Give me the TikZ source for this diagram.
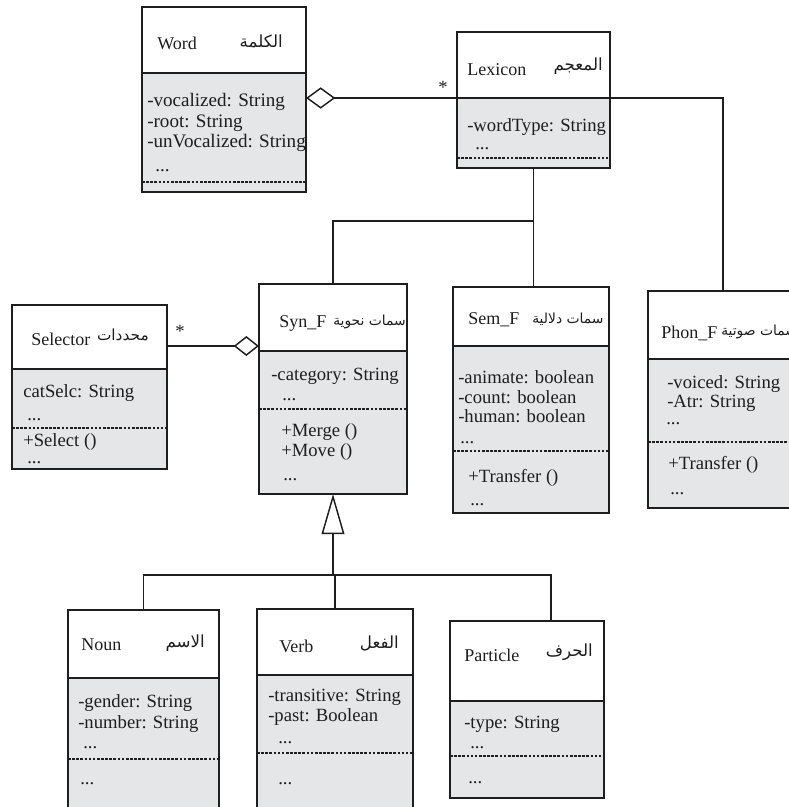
\documentclass[tikz,border=0pt]{standalone}
\usepackage{fontspec}
\setmainfont{Liberation Serif}
\newfontfamily\arabicfont[Script=Arabic]{DejaVu Sans}
\TeXXeTstate=1
\usetikzlibrary{arrows.meta}
\definecolor{bodyfill}{HTML}{E5E6E8}
\definecolor{ink}{HTML}{1E1E1E}
\tikzset{
  hdrbox/.style={draw=ink, line width=1.1pt, fill=white, rectangle, anchor=north west, inner sep=0pt, outer sep=0pt},
  bodybox/.style={draw=ink, line width=1.1pt, fill=bodyfill, rectangle, anchor=north west, inner sep=0pt, outer sep=0pt},
  sepline/.style={draw=ink, line width=0.8pt, dash pattern=on 2pt off 1.1pt},
  conn/.style={draw=ink, line width=1.1pt},
  txt/.style={anchor=west, inner sep=0pt, text=ink, font=\fontsize{14}{16}\selectfont},
  bigtxt/.style={anchor=west, inner sep=0pt, text=ink, font=\fontsize{14.3}{16}\selectfont},
  hdtxt/.style={anchor=west, inner sep=0pt, text=ink, font=\fontsize{13.5}{15}\selectfont},
  artxt/.style={inner sep=0pt, text=ink, font=\arabicfont\fontsize{12.5}{14}\selectfont},
  arsmall/.style={inner sep=0pt, text=ink, font=\arabicfont\fontsize{10.4}{12}\selectfont},
}
\newcommand\umlclass[6]{%
  \node[hdrbox, minimum width={(#3-#2)*0.75pt}, minimum height={(#5-#4)*0.75pt}] (#1h) at (#2,#4) {};
  \node[bodybox, minimum width={(#3-#2)*0.75pt}, minimum height={(#6-#5)*0.75pt}] (#1b) at (#2,#5) {};
}
\newcommand\umlsep[2]{%
  \coordinate (#1sep) at (0,#2);
  \draw[sepline] (#1sep -| #1b.west) -- (#1sep -| #1b.east);
}
\begin{document}
\begin{tikzpicture}[x=0.75pt,y=-0.75pt]
\useasboundingbox (0,0) rectangle (789,807);
\clip (0,0) rectangle (789,807);

% classes
\umlclass{word}{142}{306}{7}{73}{192}
\umlclass{lex}{457}{610}{32}{98}{168}
\umlclass{sel}{12}{167}{305}{369}{469}
\umlclass{syn}{259}{407}{284}{351}{494}
\umlclass{sem}{453}{609}{287}{346}{513}
\umlclass{phon}{648}{798}{291}{359}{508}
\umlclass{noun}{68}{219}{610}{678}{830}
\umlclass{verb}{257}{413}{609}{675}{830}
\umlclass{part}{450}{604}{621}{701}{798}

\umlsep{word}{182}
\umlsep{lex}{158}
\umlsep{sel}{428}
\umlsep{syn}{409}
\umlsep{sem}{451}
\umlsep{phon}{442}
\umlsep{noun}{759}
\umlsep{verb}{753}
\umlsep{part}{756}

% headers
\node[hdtxt] (wordT) at (157,43) {Word};
\node[artxt, anchor=east] (wordA) at (283,41) {\beginR الكلمة\endR};
\node[hdtxt] (lexT) at (467,70) {Lexicon};
\node[artxt, anchor=east] (lexA) at (603,66) {\beginR المعجم\endR};
\node[hdtxt] (selT) at (31,339) {Selector};
\node[arsmall, anchor=east, font=\arabicfont\fontsize{11.5}{13}\selectfont] (selA) at (149,335) {\beginR محددات\endR};
\node[hdtxt] (synT) at (279,323) {Syn\_F};
\node[arsmall, anchor=west] (synA) at (333,322) {\beginR سمات نحوية\endR};
\node[hdtxt] (semT) at (468,320) {Sem\_F};
\node[arsmall, anchor=west] (semA) at (532,319) {\beginR سمات دلالية\endR};
\node[hdtxt] (phonT) at (661,333) {Phon\_F};
\node[arsmall, anchor=west] (phonA) at (721,332) {\beginR سمات صوتية\endR};
\node[hdtxt] (nounT) at (81,645) {Noun};
\node[artxt, anchor=east] (nounA) at (205,643) {\beginR الاسم\endR};
\node[hdtxt] (verbT) at (279,646) {Verb};
\node[artxt, anchor=east] (verbA) at (399,643) {\beginR الفعل\endR};
\node[hdtxt] (partT) at (464,655) {Particle};
\node[artxt, anchor=east] (partA) at (593,652) {\beginR الحرف\endR};

% Word body
\node[bigtxt] (w1) at (147,102) {-vocalized: String};
\node[bigtxt] (w2) at (147,123) {-root: String};
\node[bigtxt] (w3) at (147,143) {-unVocalized: String};
\node[bigtxt] (w4) at (155,171) {...};
% Lexicon body
\node[txt] (l1) at (467,127) {-wordType: String};
\node[txt] (l2) at (475,149) {...};
% Selector body
\node[txt] (s1) at (23,393) {catSelc: String};
\node[txt] (s2) at (27,420) {...};
\node[txt] (s3) at (23,442) {+Select ()};
\node[txt] (s4) at (27,463) {...};
% Syn_F body
\node[txt] (y1) at (271,376) {-category: String};
\node[txt] (y2) at (282,400) {...};
\node[txt] (y3) at (281,432) {+Merge ()};
\node[txt] (y4) at (281,452) {+Move ()};
\node[txt] (y5) at (283,480) {...};
% Sem_F body
\node[txt] (m1) at (458,377) {-animate: boolean};
\node[txt] (m2) at (458,397) {-count: boolean};
\node[txt] (m3) at (458,416) {-human: boolean};
\node[txt] (m4) at (460,443) {...};
\node[txt] (m5) at (468,478) {+Transfer ()};
\node[txt] (m6) at (470,505) {...};
% Phon_F body
\node[txt] (p1) at (667,384) {-voiced: String};
\node[txt] (p2) at (667,403) {-Atr: String};
\node[txt] (p3) at (666,424) {...};
\node[txt] (p4) at (668,465) {+Transfer ()};
\node[txt] (p5) at (670,494) {...};
% Noun body
\node[txt] (n1) at (78,703) {-gender: String};
\node[txt] (n2) at (78,724) {-number: String};
\node[txt] (n3) at (83,748) {...};
\node[txt] (n4) at (80,784) {...};
% Verb body
\node[txt] (v1) at (268,697) {-transitive: String};
\node[txt] (v2) at (268,717) {-past: Boolean};
\node[txt] (v3) at (278,743) {...};
\node[txt] (v4) at (278,784) {...};
% Particle body
\node[txt] (r1) at (464,724) {-type: String};
\node[txt] (r2) at (470,748) {...};
\node[txt] (r3) at (468,783) {...};

% multiplicities
\node[txt] (st1) at (438,87) {*};
\node[txt] (st2) at (175,331) {*};

% connectors
\draw[conn, -{Diamond[open, length=22pt, width=16pt, line width=1.1pt]}] (lexh.south west) -- (lexh.south west -| wordb.east);
\draw[conn] (lexh.south east) -| (phonh.north);
\coordinate (jt) at (533,221);
\draw[conn] (lexb.south) -- (lexb.south |- semh.north);
\draw[conn] (synh.north) |- (jt);
\coordinate (selj) at (0,346);
\draw[conn, -{Diamond[open, length=19pt, width=15pt, line width=1.1pt]}] (selj -| selh.east) -- (selj -| synh.west);
\coordinate (jb) at (333,575);
\coordinate (ptop) at (551,621);
\draw[conn, -{Triangle[open, length=30pt, width=17pt, line width=1.1pt]}] (jb) -- (synb.south);
\draw[conn] (nounh.north) |- (jb) -| (verbh.north);
\draw[conn] (jb) -| (ptop);
\end{tikzpicture}
\end{document}
